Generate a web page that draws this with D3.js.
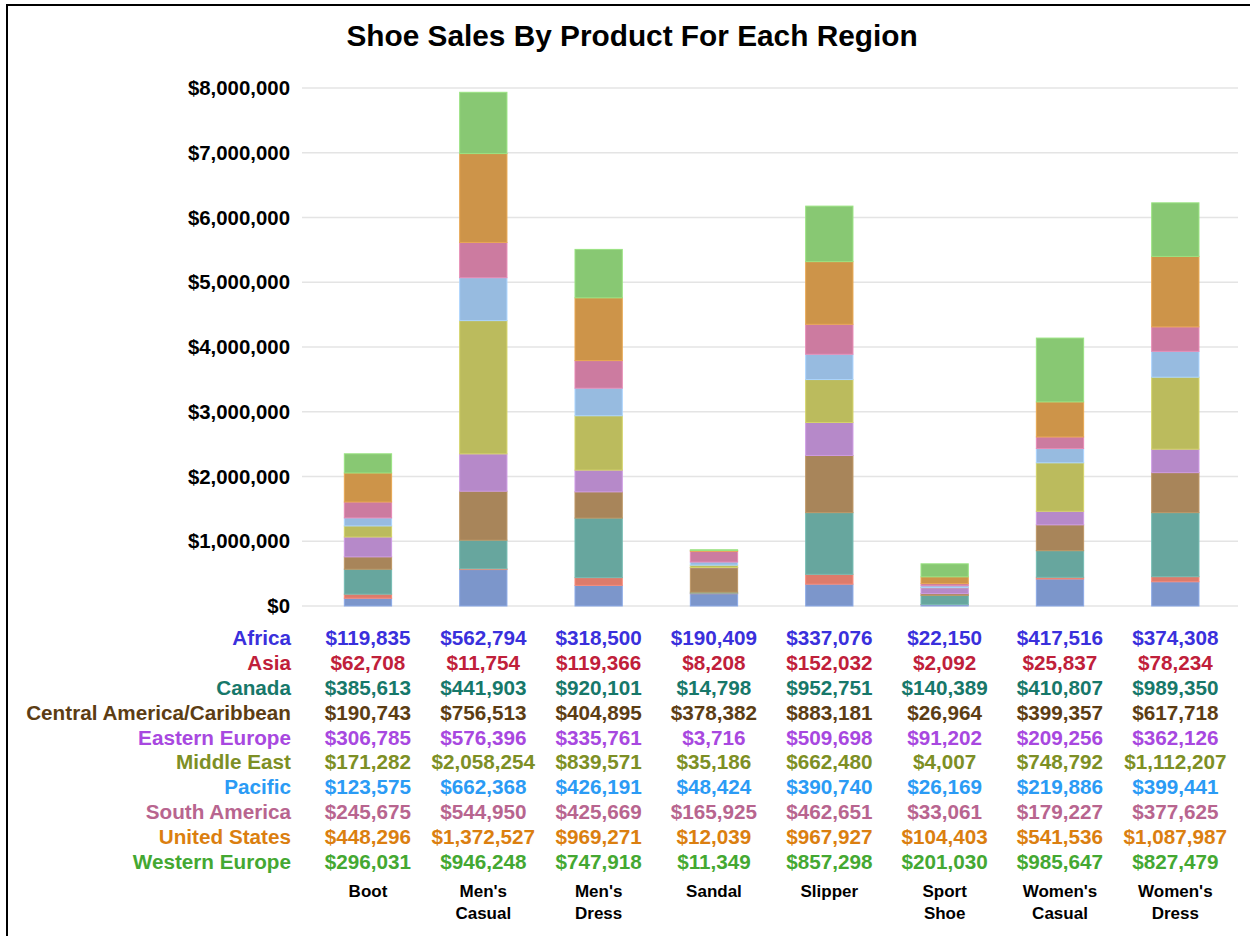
<!DOCTYPE html>
<html>
<head>
<meta charset="utf-8">
<script src="https://cdn.jsdelivr.net/npm/d3@7"></script>
<style>
  html, body { margin: 0; padding: 0; background: #fff; overflow: hidden; }
  svg { display: block; font-family: "Liberation Sans", Arial, sans-serif; }
</style>
</head>
<body>
<svg id="chart" width="1250" height="936"></svg>
<script>
const products = ["Boot", "Men's Casual", "Men's Dress", "Sandal", "Slipper", "Sport Shoe", "Women's Casual", "Women's Dress"];
const regions = ["Africa", "Asia", "Canada", "Central America/Caribbean", "Eastern Europe", "Middle East", "Pacific", "South America", "United States", "Western Europe"];

const africa = [119835, 562794, 318500, 190409, 337076, 22150, 417516, 374308];
const asia = [62708, 11754, 119366, 8208, 152032, 2092, 25837, 78234];
const canada = [385613, 441903, 920101, 14798, 952751, 140389, 410807, 989350];
const centralAmerica = [190743, 756513, 404895, 378382, 883181, 26964, 399357, 617718];
const easternEurope = [306785, 576396, 335761, 3716, 509698, 91202, 209256, 362126];
const middleEast = [171282, 2058254, 839571, 35186, 662480, 4007, 748792, 1112207];
const pacific = [123575, 662368, 426191, 48424, 390740, 26169, 219886, 399441];
const southAmerica = [245675, 544950, 425669, 165925, 462651, 33061, 179227, 377625];
const unitedStates = [448296, 1372527, 969271, 12039, 967927, 104403, 541536, 1087987];
const westernEurope = [296031, 946248, 747918, 11349, 857298, 201030, 985647, 827479];

const yTicks = [0, 1000000, 2000000, 3000000, 4000000, 5000000, 6000000, 7000000, 8000000];

const seriesValues = [africa, asia, canada, centralAmerica, easternEurope, middleEast, pacific, southAmerica, unitedStates, westernEurope];

const barColors = ["#7c96cb", "#dd7b6b", "#67a69e", "#a8855a", "#b689c9", "#bbbb5d", "#97bbe0", "#cc7ba0", "#cd9449", "#88c873"];
const textColors = ["#3a30dc", "#c0203a", "#17786a", "#5c3d14", "#a848e0", "#7d8f25", "#2b9bf5", "#b8658f", "#db7f10", "#44a832"];

const svg = d3.select("#chart");

// table rows for d3.stack
const rows = products.map((p, i) => {
  const row = { product: p };
  regions.forEach((r, j) => { row[r] = seriesValues[j][i]; });
  return row;
});

const x = d3.scaleBand()
  .domain(products)
  .range([310.3, 1233])
  .paddingInner(0.59)
  .paddingOuter(0.295);

const y = d3.scaleLinear()
  .domain([0, 8000000])
  .range([606, 88]);

const money = d3.format("$,");

// frame: only top and left edges show in the picture
svg.append("path")
  .attr("d", "M7,940 L7,5 L1260,5")
  .attr("fill", "none")
  .attr("stroke", "#000")
  .attr("stroke-width", 2);

// title
svg.append("text")
  .attr("x", 632).attr("y", 46)
  .attr("text-anchor", "middle")
  .attr("font-size", 29.8)
  .attr("font-weight", "bold")
  .attr("fill", "#000")
  .text("Shoe Sales By Product For Each Region");

// gridlines
svg.append("g")
  .selectAll("line")
  .data(yTicks)
  .join("line")
  .attr("x1", 302).attr("x2", 1238)
  .attr("y1", d => y(d)).attr("y2", d => y(d))
  .attr("stroke", "#e4e4e4")
  .attr("stroke-width", 1.5);

// y axis labels
const yAxis = svg.append("g")
  .attr("transform", "translate(290,0)")
  .call(d3.axisLeft(y).tickValues(yTicks).tickFormat(money).tickSize(0).tickPadding(0));
yAxis.select(".domain").remove();
yAxis.selectAll("text")
  .attr("font-family", "'Liberation Sans', Arial, sans-serif")
  .attr("font-size", 20.4)
  .attr("font-weight", "bold")
  .attr("fill", "#000");

// stacked bars
const stack = d3.stack().keys(regions);
const layers = stack(rows);

svg.append("g")
  .selectAll("g")
  .data(layers)
  .join("g")
  .attr("fill", (d, i) => barColors[i])
  .attr("stroke", (d, i) => d3.color(barColors[i]).brighter(0.35))
  .attr("stroke-width", 1)
  .selectAll("rect")
  .data(d => d)
  .join("rect")
  .attr("x", d => x(d.data.product))
  .attr("width", x.bandwidth())
  .attr("y", d => y(d[1]))
  .attr("height", d => y(d[0]) - y(d[1]));

// data table under the chart
const rowY = d3.scalePoint()
  .domain(regions)
  .range([645, 869]);

const table = svg.append("g")
  .attr("font-size", 20.7)
  .attr("font-weight", "bold");

table.selectAll("text.region")
  .data(regions)
  .join("text")
  .attr("class", "region")
  .attr("x", 291)
  .attr("y", d => rowY(d))
  .attr("text-anchor", "end")
  .attr("fill", (d, i) => textColors[i])
  .text(d => d);

regions.forEach((r, j) => {
  table.append("g")
    .selectAll("text")
    .data(seriesValues[j])
    .join("text")
    .attr("x", (d, i) => x(products[i]) + x.bandwidth() / 2)
    .attr("y", rowY(r))
    .attr("text-anchor", "middle")
    .attr("fill", textColors[j])
    .text(d => money(d));
});

// category labels (wrapped onto two lines)
const catLabels = svg.append("g")
  .attr("font-size", 17)
  .attr("font-weight", "bold")
  .attr("fill", "#000");

products.forEach(p => {
  const words = p.split(" ");
  const t = catLabels.append("text")
    .attr("text-anchor", "middle")
    .attr("x", x(p) + x.bandwidth() / 2)
    .attr("y", 897);
  words.forEach((w, k) => {
    t.append("tspan")
      .attr("x", x(p) + x.bandwidth() / 2)
      .attr("dy", k === 0 ? 0 : 22)
      .text(w);
  });
});
</script>
</body>
</html>
